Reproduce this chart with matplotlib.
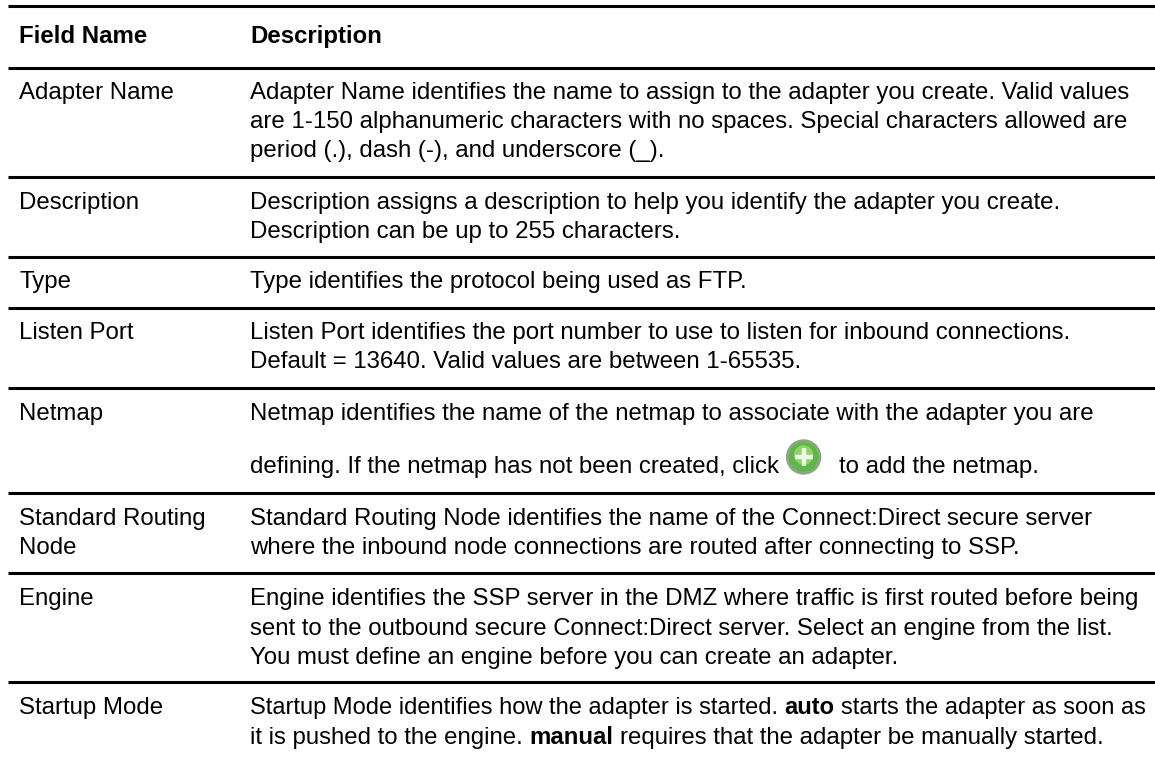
import matplotlib
matplotlib.use("Agg")
from matplotlib import pyplot as plt
from matplotlib.patches import Circle

plt.rcParams["font.family"] = "Liberation Sans"

WIDTH = 1155
HEIGHT = 759
FONT = 17.25
LINE_H = 29

headers = ["Field Name", "Description"]
field_names = [
    ["Adapter Name"],
    ["Description"],
    ["Type"],
    ["Listen Port"],
    ["Netmap"],
    ["Standard Routing", "Node"],
    ["Engine"],
    ["Startup Mode"],
]
# a line is a list of (text, bold) runs, None stands for the icon
descriptions = [
    [[("Adapter Name identifies the name to assign to the adapter you create. Valid values", False)],
     [("are 1-150 alphanumeric characters with no spaces. Special characters allowed are", False)],
     [("period (.), dash (-), and underscore (_).", False)]],
    [[("Description assigns a description to help you identify the adapter you create.", False)],
     [("Description can be up to 255 characters.", False)]],
    [[("Type identifies the protocol being used as FTP.", False)]],
    [[("Listen Port identifies the port number to use to listen for inbound connections.", False)],
     [("Default = 13640. Valid values are between 1-65535.", False)]],
    [[("Netmap identifies the name of the netmap to associate with the adapter you are", False)],
     [("defining. If the netmap has not been created, click", False), None, ("to add the netmap.", False)]],
    [[("Standard Routing Node identifies the name of the Connect:Direct secure server", False)],
     [("where the inbound node connections are routed after connecting to SSP.", False)]],
    [[("Engine identifies the SSP server in the DMZ where traffic is first routed before being", False)],
     [("sent to the outbound secure Connect:Direct server. Select an engine from the list.", False)],
     [("You must define an engine before you can create an adapter.", False)]],
    [[("Startup Mode identifies how the adapter is started.", False), ("auto", True),
      ("starts the adapter as soon as", False)],
     [("it is pushed to the engine.", False), ("manual", True),
      ("requires that the adapter be manually started.", False)]],
]
# baseline of the first text line of each row, pixels from the top
row_baselines = [99, 209, 288, 339, 420, 525, 605, 714]
line_steps = [29, 29, 29, 29, 53, 29, 29.5, 30]
rules = [6, 68, 177, 257, 308, 388, 493, 572.5, 681.5]
# this one line is set a bit tighter in the original
tight_lines = {(7, 0): 16.97}

X_LEFT = 19
X_DESC = 250
SPACE = 6.6

fig = plt.figure(figsize=(WIDTH / 100, HEIGHT / 100), dpi=100)
ax = fig.add_axes([0, 0, 1, 1])
ax.set_xlim(0, WIDTH)
ax.set_ylim(HEIGHT, 0)
ax.axis("off")

for y in rules:
    ax.plot([8, WIDTH], [y, y], color="black", lw=2.2, solid_capstyle="butt")

ax.text(X_LEFT, 43, headers[0], fontsize=FONT, fontweight="bold", va="baseline")
ax.text(X_DESC, 43, headers[1], fontsize=FONT, fontweight="bold", va="baseline")

renderer = fig.canvas.get_renderer()


def draw_runs(x, y, runs, size):
    for run in runs:
        if run is None:
            cx = x + 18
            cy = y - 16
            ax.add_patch(Circle((cx, cy), 17, color="#8aa682", zorder=3))
            ax.add_patch(Circle((cx, cy), 14, color="#5cb848", zorder=3))
            ax.add_patch(Circle((cx, cy - 2), 9, color="#8ed468", zorder=3))
            ax.plot([cx - 9, cx + 9], [cy, cy], color="#eef8e6", lw=3.2, zorder=4, solid_capstyle="butt")
            ax.plot([cx, cx], [cy - 9, cy + 9], color="#eef8e6", lw=3.2, zorder=4, solid_capstyle="butt")
            x += 53
            continue
        t = ax.text(x, y, run[0], fontsize=size, va="baseline",
                    fontweight="bold" if run[1] else "normal")
        x += t.get_window_extent(renderer).width + SPACE


for i in range(len(field_names)):
    y = row_baselines[i]
    for j, name in enumerate(field_names[i]):
        ax.text(X_LEFT, y + j * LINE_H, name, fontsize=FONT, va="baseline")
    for j, runs in enumerate(descriptions[i]):
        draw_runs(X_DESC, y + j * line_steps[i], runs, tight_lines.get((i, j), FONT))

fig.savefig("out.png", dpi=100)
